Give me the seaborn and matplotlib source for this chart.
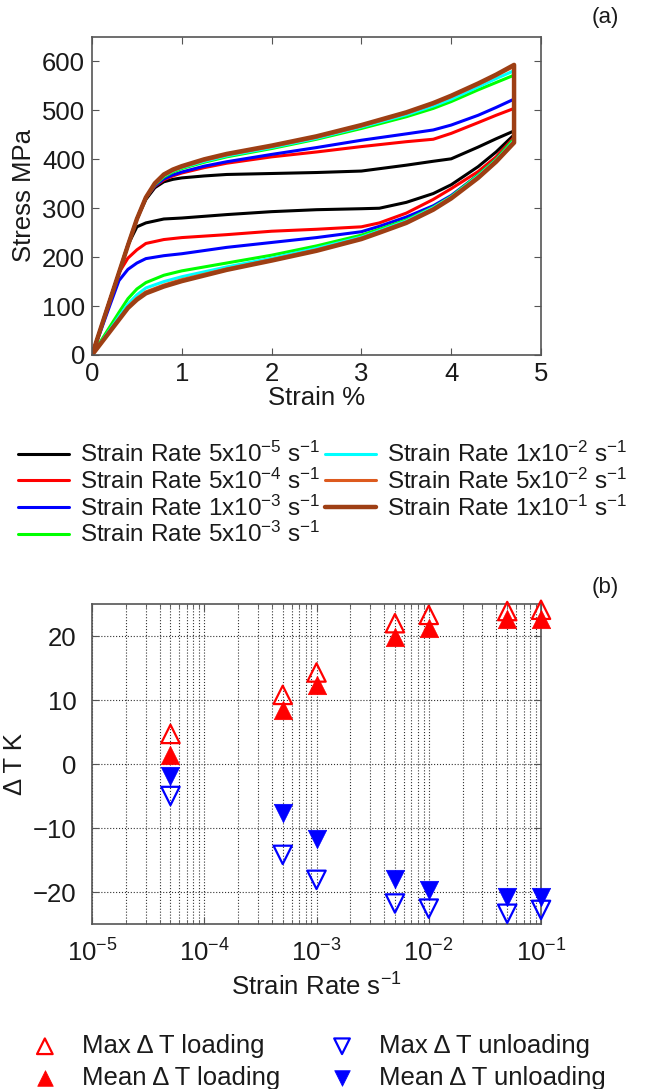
"""Stress-strain loops and temperature change vs strain rate (two stacked panels)."""

import matplotlib.pyplot as plt
import numpy as np
import seaborn as sns

# ---- panel (a): stress-strain loops ----
load_strain = [0, 0.1, 0.2, 0.3, 0.4, 0.5, 0.6, 0.7, 0.8, 0.9, 1.0, 1.25, 1.5,
               2.0, 2.5, 3.0, 3.5, 3.8, 4.0, 4.3, 4.5, 4.7]
unload_strain = [4.7, 4.5, 4.3, 4.0, 3.8, 3.5, 3.2, 3.0, 2.5, 2.0, 1.5, 1.0,
                 0.8, 0.6, 0.5, 0.4, 0.3, 0.2, 0.1, 0]

load_5e5 = [0, 56, 112, 168, 224, 278, 318, 342, 354, 359, 362, 366, 369,
            371, 373, 376, 388, 396, 401, 425, 442, 458]
unload_5e5 = [450, 415, 385, 348, 330, 312, 300, 299, 297, 293, 287, 280,
              278, 270, 262, 225, 168, 112, 56, 0]
load_5e4 = [0, 56, 112, 168, 224, 278, 322, 345, 358, 366, 372, 383, 392,
            405, 415, 426, 436, 441, 453, 475, 490, 504]
unload_5e4 = [445, 405, 375, 340, 318, 290, 270, 262, 257, 253, 246, 240,
              236, 228, 215, 198, 168, 112, 56, 0]
load_1e3 = [0, 56, 112, 168, 224, 278, 322, 346, 360, 368, 374, 386, 395,
            410, 424, 439, 452, 460, 470, 490, 506, 523]
unload_1e3 = [442, 400, 368, 326, 305, 282, 263, 252, 240, 230, 220, 207,
              203, 197, 188, 175, 152, 102, 51, 0]
load_5e3 = [0, 56, 112, 168, 224, 278, 322, 348, 364, 374, 381, 394, 405,
            422, 441, 463, 487, 504, 518, 542, 557, 572]
unload_5e3 = [442, 400, 368, 324, 302, 276, 257, 245, 223, 204, 188, 172,
              163, 148, 135, 115, 87, 58, 29, 0]
load_1e2 = [0, 56, 112, 168, 224, 278, 322, 349, 366, 376, 383, 396, 407,
            424, 443, 466, 491, 509, 523, 548, 565, 581]
unload_1e2 = [438, 398, 366, 323, 301, 274, 254, 241, 218, 198, 180, 160,
              150, 137, 123, 104, 78, 52, 26, 0]
load_5e2 = [0, 56, 112, 168, 224, 278, 322, 350, 367, 377, 384, 398, 409,
            426, 445, 468, 494, 513, 528, 553, 571, 590]
unload_5e2 = [436, 397, 364, 322, 299, 272, 252, 239, 215, 195, 176, 154,
              143, 129, 116, 98, 73, 49, 24, 0]
load_1e1 = [0, 56, 112, 168, 224, 278, 322, 351, 369, 379, 386, 400, 411,
            428, 447, 470, 496, 515, 530, 555, 573, 593]
unload_1e1 = [434, 395, 362, 320, 297, 270, 250, 237, 213, 193, 174, 151,
              140, 126, 113, 96, 72, 48, 24, 0]

rate_labels = ["5x10$^{-5}$", "5x10$^{-4}$", "1x10$^{-3}$", "5x10$^{-3}$",
               "1x10$^{-2}$", "5x10$^{-2}$", "1x10$^{-1}$"]
rate_colors = ["#000000", "#FF0000", "#0000FF", "#00FF00",
               "#00FFFF", "#DD5A1E", "#9E3F14"]
loading = [load_5e5, load_5e4, load_1e3, load_5e3, load_1e2, load_5e2, load_1e1]
unloading = [unload_5e5, unload_5e4, unload_1e3, unload_5e3, unload_1e2,
             unload_5e2, unload_1e1]

# ---- panel (b): temperature change vs strain rate ----
strain_rates = [5e-5, 5e-4, 1e-3, 5e-3, 1e-2, 5e-2, 1e-1]
max_dt_load = [4.7, 10.8, 14.3, 22.0, 23.3, 23.9, 24.1]
mean_dt_load = [1.4, 8.4, 12.4, 19.9, 21.3, 22.6, 22.7]
max_dt_unload = [-5.0, -14.2, -18.1, -21.8, -22.6, -23.4, -22.8]
mean_dt_unload = [-1.9, -7.7, -11.7, -18.0, -19.7, -20.8, -20.8]

sns.set_style("ticks")
plt.rcParams["font.family"] = ["Liberation Sans", "DejaVu Sans"]
plt.rcParams["mathtext.fontset"] = "custom"
plt.rcParams["mathtext.rm"] = "Liberation Sans"
plt.rcParams["mathtext.it"] = "Liberation Sans:italic"
plt.rcParams["mathtext.default"] = "regular"
plt.rcParams["axes.edgecolor"] = "#555555"
plt.rcParams["xtick.color"] = "#555555"
plt.rcParams["ytick.color"] = "#555555"
plt.rcParams["xtick.labelcolor"] = "#1a1a1a"
plt.rcParams["ytick.labelcolor"] = "#1a1a1a"
plt.rcParams["text.color"] = "#1a1a1a"
plt.rcParams["axes.labelcolor"] = "#1a1a1a"

W, H = 653, 1089
fig = plt.figure(figsize=(W / 100, H / 100), dpi=100)


def box(left, top, right, bottom):
    return [left / W, 1 - bottom / H, (right - left) / W, (bottom - top) / H]


tick_fs = 18.5
label_fs = 18.5
legend_fs = 17.5

# panel (a)
ax1 = fig.add_axes(box(92, 37, 541, 355))
for lab, col, ld, ul in zip(rate_labels, rate_colors, loading, unloading):
    xs = load_strain + unload_strain
    ys = ld + ul
    lw = 3.2 if col == "#9E3F14" else 2.2
    sns.lineplot(x=xs, y=ys, sort=False, estimator=None, color=col,
                 linewidth=lw, label=f"Strain Rate {lab} s$^{{-1}}$", ax=ax1)
if ax1.get_legend():
    ax1.get_legend().remove()
ax1.set_xlim(0, 5)
ax1.set_ylim(0, 650)
ax1.set_yticks([0, 100, 200, 300, 400, 500, 600])
ax1.set_xticks([0, 1, 2, 3, 4, 5])
ax1.tick_params(direction="in", top=True, right=True, length=5,
                labelsize=tick_fs, pad=5)
ax1.set_xlabel("Strain %", fontsize=label_fs, labelpad=0)
ax1.set_ylabel("Stress MPa", fontsize=label_fs, labelpad=4)
for sp in ax1.spines.values():
    sp.set_linewidth(1.2)

h1, l1 = ax1.get_legend_handles_labels()
fig.legend(h1, l1, loc="upper left", bbox_to_anchor=(18 / W, 1 - 442 / H),
           ncol=2, frameon=False, fontsize=legend_fs, handlelength=2.1,
           handletextpad=0.45, columnspacing=0.2, labelspacing=0.06,
           borderpad=0, borderaxespad=0)

# panel (b)
ax2 = fig.add_axes(box(92, 604, 541, 924))
ax2.set_xscale("log")
ms = 175
sns.scatterplot(x=strain_rates, y=max_dt_load, marker="^", s=ms,
                facecolors="none", edgecolor="#FF0000", linewidth=1.6,
                label="Max \u0394 T loading", ax=ax2, clip_on=False, zorder=3)
sns.scatterplot(x=strain_rates, y=mean_dt_load, marker="^", s=ms,
                color="#FF0000", edgecolor="#FF0000", linewidth=0.5,
                label="Mean \u0394 T loading", ax=ax2, clip_on=False, zorder=4)
sns.scatterplot(x=strain_rates, y=max_dt_unload, marker="v", s=ms,
                facecolors="none", edgecolor="#0000FF", linewidth=1.6,
                label="Max \u0394 T unloading", ax=ax2, clip_on=False, zorder=3)
sns.scatterplot(x=strain_rates, y=mean_dt_unload, marker="v", s=ms,
                color="#0000FF", edgecolor="#0000FF", linewidth=0.5,
                label="Mean \u0394 T unloading", ax=ax2, clip_on=False, zorder=4)
if ax2.get_legend():
    ax2.get_legend().remove()
ax2.set_xlim(1e-5, 1e-1)
ax2.set_ylim(-25, 25)
ax2.set_yticks([-20, -10, 0, 10, 20])
ax2.set_xticks([1e-5, 1e-4, 1e-3, 1e-2, 1e-1])
ax2.grid(True, which="both", axis="x", linestyle=":", color="#333333",
         linewidth=0.8)
ax2.grid(True, which="major", axis="y", linestyle=":", color="#333333",
         linewidth=0.8)
ax2.tick_params(which="both", direction="in", top=True, right=True)
ax2.tick_params(which="major", length=5, labelsize=tick_fs, pad=11)
ax2.tick_params(which="minor", length=3)
ax2.set_xlabel("Strain Rate s$^{-1}$", fontsize=label_fs, labelpad=5)
ax2.set_ylabel("\u0394 T K", fontsize=label_fs, labelpad=4)
for sp in ax2.spines.values():
    sp.set_linewidth(1.2)

h2, l2 = ax2.get_legend_handles_labels()
fig.legend(h2, l2, loc="upper left", bbox_to_anchor=(32 / W, 1 - 1034 / H),
           ncol=2, frameon=False, fontsize=legend_fs + 1, handlelength=1.0,
           handletextpad=0.95, columnspacing=1.9, labelspacing=0.3,
           borderpad=0, borderaxespad=0, markerscale=0.85)

fig.text(605 / W, 1 - 18 / H, "(a)", fontsize=16, ha="center", va="center")
fig.text(605 / W, 1 - 588 / H, "(b)", fontsize=16, ha="center", va="center")

fig.savefig("out.png", dpi=100)
